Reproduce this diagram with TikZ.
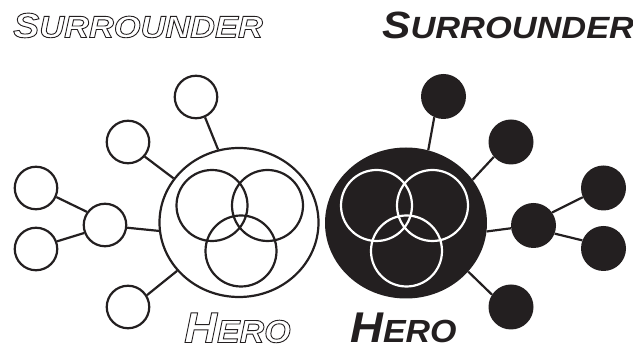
\documentclass[tikz,border=0pt]{standalone}
\usepackage{fontspec}
\setmainfont{Liberation Sans}
\newfontfamily\brushwide[FakeStretch=1.12]{Liberation Sans}
\newfontfamily\herowide[FakeStretch=1.06]{Liberation Sans}
\usetikzlibrary{shapes.geometric}
\definecolor{ink}{RGB}{35,31,32}
\newcommand{\outl}[1]{\special{pdf:literal direct 1 Tr 0.9 w}#1\special{pdf:literal direct 0 Tr}}
\newcommand{\surrword}[1]{{\brushwide\bfseries\itshape\fontsize{#1}{#1}\selectfont S\fontsize{30.7}{31}\selectfont URROUNDER}}
\newcommand{\heroword}{{\herowide\bfseries\itshape\fontsize{43}{43}\selectfont H\fontsize{32}{32}\selectfont ERO}}
\begin{document}
\begin{tikzpicture}[x=1pt,y=-1pt,
  sm/.style={circle,draw=ink,line width=2.2pt,minimum size=42.5pt,inner sep=0pt},
  smf/.style={circle,fill=ink,minimum size=45pt,inner sep=0pt},
  big/.style={ellipse,draw=ink,line width=2.2pt,minimum width=159pt,minimum height=149pt,inner sep=0pt},
  bigf/.style={ellipse,fill=ink,minimum width=162pt,minimum height=151pt,inner sep=0pt},
  venn/.style={circle,draw=ink,line width=2.2pt,minimum size=71pt,inner sep=0pt},
  vennw/.style={circle,draw=white,line width=2.2pt,minimum size=71pt,inner sep=0pt},
  con/.style={draw=ink,line width=2.2pt},
  lbl/.style={inner sep=0pt,anchor=base west,text=ink}]
\useasboundingbox (0,0) rectangle (633,352);
% ---------- left (outline) ----------
\node[big] (ell) at (239,222.5) {};
\node[venn] (va) at (212,205.5) {};
\node[venn] (vb) at (267.5,205.5) {};
\node[venn] (vc) at (241,251) {};
\node[sm] (top) at (196,97) {};
\node[sm] (sec) at (128,142) {};
\node[sm] (hub) at (105,225) {};
\node[sm] (fu) at (36,188) {};
\node[sm] (fl) at (36,249) {};
\node[sm] (bot) at (128,307) {};
\draw[con] (top.-66.8) -- (ell.106.3);
\draw[con] (sec.-41.4) -- (ell.146.9);
\draw[con] (hub.-7.8) -- (ell.186.4);
\draw[con] (bot.32.3) -- (ell.218.9);
\draw[con] (fu.-24.2) -- (hub.144.8);
\draw[con] (fl.20.9) -- (hub.201.8);
% ---------- right (filled) ----------
\node[bigf] (Rell) at (406,223) {};
\node[vennw] (Rva) at (376.5,205.5) {};
\node[vennw] (Rvb) at (432.5,205.5) {};
\node[vennw] (Rvc) at (406.5,251) {};
\node[smf] (Rtop) at (443.5,96.5) {};
\node[smf] (Rsec) at (511,142) {};
\node[smf] (Rhub) at (533.5,225.5) {};
\node[smf] (Rfu) at (603.5,188) {};
\node[smf] (Rfl) at (603.5,248.5) {};
\node[smf] (Rbot) at (511,307) {};
\draw[con] (Rtop.246.8) -- (Rell.73.7);
\draw[con] (Rsec.221.4) -- (Rell.33.1);
\draw[con] (Rhub.187.8) -- (Rell.-6.4);
\draw[con] (Rbot.147.7) -- (Rell.-38.9);
\draw[con] (Rfu.204.2) -- (Rhub.35.2);
\draw[con] (Rfl.159.1) -- (Rhub.-21.8);
% ---------- labels ----------
\node[lbl] (tl) at (13,37.5) {\outl{\surrword{35}}};
\node[lbl] (tr) at (382,38.5) {\surrword{38}};
\node[lbl] (hl) at (184,342.5) {\outl{\heroword}};
\node[lbl] (hr) at (350,342.5) {\heroword};
\end{tikzpicture}
\end{document}
